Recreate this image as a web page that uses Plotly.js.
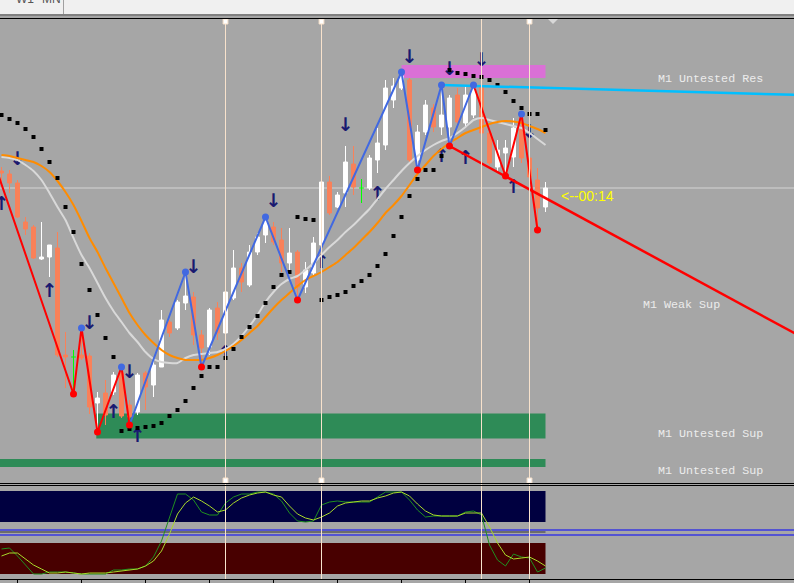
<!DOCTYPE html>
<html><head><meta charset="utf-8">
<script src="https://cdn.plot.ly/plotly-3.0.1.min.js"></script>
<style>html,body{margin:0;padding:0;background:#a6a6a6;overflow:hidden}#chart{width:794px;height:583px}</style>
</head><body><div id="chart"></div>
<script>
// ---- price bars (main window, arbitrary price units) ----
const open  = [329,326,317,278,273,241,243,252,145,143,145,144,97,107,108,127,95,88,127,115,133,178,172,197,203,165,153,192,167,202,232,215,248,265,273,260,237,248,213,227,255,318,293,307,336,312,312,340,355,400,412,420,340,368,392,373,373,405,377,385,413,367,333,347,343,370,342,320,293];
const high  = [333,330,320,283,275,278,255,268,168,150,172,147,108,120,128,133,100,127,129,140,190,180,200,228,208,170,192,198,208,250,237,255,267,283,278,272,272,250,238,263,324,324,308,354,354,321,345,372,420,422,428,422,375,400,396,415,405,412,415,415,413,370,360,360,382,386,350,332,318];
const low   = [318,307,282,265,241,240,223,143,112,106,140,86,68,75,105,82,75,85,90,103,133,163,170,190,155,133,145,160,165,200,208,213,245,257,255,228,227,200,207,225,250,285,292,293,305,297,310,327,350,392,410,337,330,365,368,365,354,375,372,382,365,335,328,324,333,337,315,270,288];
const close = [327,317,283,271,242,243,255,145,143,143,142,93,102,85,125,84,83,125,113,135,180,167,198,204,165,152,190,167,208,232,218,248,263,280,258,237,247,213,230,257,318,287,305,338,313,312,342,357,412,414,424,340,368,395,373,385,402,378,405,412,367,337,350,352,372,342,323,292,312];

// moving averages
const maOrange = [345,344,342,340,338,334,328,319,308,295,279,262,248,232,217,202,187,175,165,157,150,145,142,140,140,140,142,145,149,154,160,167,174,183,192,200,207,214,220,224,228,233,238,245,252,260,268,277,287,295,304,315,326,335,344,351,357,362,367,370,373,376,378,379,378.5,377,374,371,367];
const maGrey   = [343,342,340,335,329,320,307,293,280,262,245,232,217,202,189,178,167,158,148,141,138,137,137,142,145,146,147,148,151,156,164,174,185,198,208,216,221,224,230,237,245,253,260,268,275,283,291,301,311,320,329,337,344,350,355,359,362,367,373,380,382,380,378,376,374,372,367,361,355];

// parabolic SAR dots
const sar = [385,381,377,371,363,351,338,322,293,268,236,210,185,162,143,69,71,72,73,74,77,84,90,99,112,124,133,133,142,151,163,173,184,197,213,225,228,283,281,280,200,203,205,208,214,219,225,234,246,264,283,304,321,330,330,344,430,427,426,424,423,420,415,408,399,392,386,386,370];

// fractal arrows
const upArrowBars   = [0,6,14,17,28,40,47,55,58,64];
const upArrowVals   = [295,208,87,63,146,237,305,343,341,312];
const downArrowBars = [2,11,16,24,34,43,51,56,60,66];
const downArrowVals = [340,176,127,232,298,374,442,430,439,367];

// zigzag pivots
const zzBars = [-1,9,10,12,15,16,23,25,33,37,50,52,55,56,59,63,65,67];
const zzVals = [339,106,172,68,133,75,228,133,283,200,428,330,415,354,415,324,386,270];
const zzType = ['S','L','H','L','H','L','H','L','H','L','H','L','H','L','H','L','H','L'];

// lines / zones
const trendBars = [56,100];
const trendVals = [354,163];
const resBars = [55,100];
const resVals = [415,405];
const resZone = {from:50, to:68, top:435, bottom:422};
const supZone1 = {from:12, to:68, top:86.5, bottom:61.5};
const supZone2 = {from:-1, to:68, top:41, bottom:33};
const separatorBars = [28,40,60,66];
const markedSeparators = [28,40,66];
const tickBars = [2,10,18,26,34,42,50,58,66];

// lower indicator window
const oscMain   = [25,26,18,9,0,0,2,2,2,1,0,0,0,0,4,4,5,5,8,17,33,56,80,80,74,62,59,59,71,77,80,80,82,82,80,73,61,53,52,53,69,72,73,72,72,72,72,77,82,82,82,74,64,57,58,58,58,58,62,63,59,29,14,8,20,17,16,2,6];
const oscSignal = [18,21,21,15,9,5,1,1,2,1,0,1,1,1,2,3,4,5,8,13,23,40,60,71,77,73,68,62,64,71,76,79,81,82,79,77,68,60,56,54,57,61,68,71,72,73,73,76,78,81,82,78,70,63,59,58,58,58,61,61,61,47,31,19,15,16,17,13,8];
const oscHighZone = [52,83];
const oscLowZone = [0,31];
const oscLevels = [44,39];
const oscMid = 42;

// labels
const zoneLabels = [
  {text:'M1 Untested Res', px:710.5, py:78.7},
  {text:'M1 Weak Sup', px:681.4, py:304.7},
  {text:'M1 Untested Sup', px:710.5, py:433.7},
  {text:'M1 Untested Sup', px:710.5, py:470.7}
];
const timerText = '<--00:14';

// ---------------- build ----------------
const W = 794, H = 583;
const py = p => 1 - p / H;     // pixel row -> paper fraction
const px = p => p / W;
const bars = open.map((_, i) => i);
const isDoji = bars.map(i => open[i] === close[i]);
const cIdx = bars.filter(i => !isDoji[i]);
const dIdx = bars.filter(i => isDoji[i]);

const SALMON = '#f98159';
const traces = [];

traces.push({
  type:'candlestick', x:cIdx, open:cIdx.map(i=>open[i]), high:cIdx.map(i=>high[i]),
  low:cIdx.map(i=>low[i]), close:cIdx.map(i=>close[i]), xaxis:'x', yaxis:'y',
  increasing:{line:{color:'#ffffff', width:1}, fillcolor:'#ffffff'},
  decreasing:{line:{color:SALMON, width:1}, fillcolor:SALMON},
  whiskerwidth:0, hoverinfo:'skip', showlegend:false
});

// dojis as green crosses
const dx = [], dy = [];
dIdx.forEach(i => { dx.push(i, i, null, i - 0.3, i + 0.3, null); dy.push(high[i], low[i], null, open[i], open[i], null); });
traces.push({type:'scatter', mode:'lines', x:dx, y:dy, line:{color:'#00ff00', width:1}, hoverinfo:'skip', showlegend:false});

// arrows
const arrowFont = {family:'DejaVu Sans', size:19, color:'#191970', weight:'bold'};
traces.push({type:'scatter', mode:'text', x:upArrowBars, y:upArrowVals, text:upArrowBars.map(()=>'<b>↑</b>'), textposition:'middle center', textfont:arrowFont, hoverinfo:'skip', showlegend:false});
traces.push({type:'scatter', mode:'text', x:downArrowBars, y:downArrowVals, text:downArrowBars.map(()=>'<b>↓</b>'), textposition:'middle center', textfont:arrowFont, hoverinfo:'skip', showlegend:false});

// MAs
traces.push({type:'scatter', mode:'lines', x:bars, y:maGrey, line:{color:'#d9d9d9', width:2, shape:'spline', smoothing:0.6}, hoverinfo:'skip', showlegend:false});
traces.push({type:'scatter', mode:'lines', x:bars, y:maOrange, line:{color:'#ff8c00', width:2, shape:'spline', smoothing:0.6}, hoverinfo:'skip', showlegend:false});

// SAR
traces.push({type:'scatter', mode:'markers', x:bars, y:sar, marker:{symbol:'square', size:4, color:'#000000'}, hoverinfo:'skip', showlegend:false});

// resistance line (cyan)
traces.push({type:'scatter', mode:'lines', x:resBars, y:resVals, line:{color:'#00bfff', width:2.5}, hoverinfo:'skip', showlegend:false});

// trend line
traces.push({type:'scatter', mode:'lines', x:trendBars, y:trendVals, line:{color:'#ff0000', width:2.5}, hoverinfo:'skip', showlegend:false});

// zigzag segments
const seg = (a, b, color) => traces.push({type:'scatter', mode:'lines', x:zzBars.slice(a, b + 1), y:zzVals.slice(a, b + 1), line:{color, width:2}, hoverinfo:'skip', showlegend:false});
seg(0, 5, '#ff0000');
seg(5, 14, '#4169e1');
seg(14, 17, '#ff0000');
const hi = zzBars.map((_, i) => i).filter(i => zzType[i] === 'H');
const lo = zzBars.map((_, i) => i).filter(i => zzType[i] === 'L');
traces.push({type:'scatter', mode:'markers', x:hi.map(i=>zzBars[i]), y:hi.map(i=>zzVals[i]), marker:{size:7, color:'#4169e1'}, hoverinfo:'skip', showlegend:false});
traces.push({type:'scatter', mode:'markers', x:lo.map(i=>zzBars[i]), y:lo.map(i=>zzVals[i]), marker:{size:7, color:'#ff0000'}, hoverinfo:'skip', showlegend:false});

// oscillator
traces.push({type:'scatter', mode:'lines', x:bars, y:oscMain, xaxis:'x', yaxis:'y2', line:{color:'#1f8f1f', width:1}, hoverinfo:'skip', showlegend:false});
traces.push({type:'scatter', mode:'lines', x:bars, y:oscSignal, xaxis:'x', yaxis:'y2', line:{color:'#a8d82a', width:1}, hoverinfo:'skip', showlegend:false});

const lastBar = bars[bars.length - 1];
const shapes = [];
// chrome
shapes.push({type:'rect', xref:'paper', yref:'paper', x0:0, x1:1, y0:py(14), y1:1, fillcolor:'#f0f0f0', line:{width:0}, layer:'below'});
shapes.push({type:'line', xref:'paper', yref:'paper', x0:px(63.5), x1:px(63.5), y0:py(14), y1:1, line:{color:'#a0a0a0', width:1}});
shapes.push({type:'line', xref:'paper', yref:'paper', x0:0, x1:1, y0:py(15), y1:py(15), line:{color:'#808080', width:2}});
// zones
shapes.push({type:'rect', xref:'x', yref:'y', x0:resZone.from, x1:resZone.to, y0:resZone.bottom, y1:resZone.top, fillcolor:'#da70d6', line:{width:0}, layer:'below'});
shapes.push({type:'rect', xref:'x', yref:'y', x0:supZone1.from - 0.15, x1:supZone1.to, y0:supZone1.bottom, y1:supZone1.top, fillcolor:'#2e8b57', line:{width:0}, layer:'below'});
shapes.push({type:'rect', xref:'x', yref:'y', x0:supZone2.from, x1:supZone2.to, y0:supZone2.bottom, y1:supZone2.top, fillcolor:'#2e8b57', line:{width:0}, layer:'below'});
// current price line
shapes.push({type:'line', xref:'paper', yref:'y', x0:0, x1:1, y0:close[lastBar], y1:close[lastBar], line:{color:'#d4d4d4', width:1}, layer:'below'});
// oscillator zones and levels
shapes.push({type:'rect', xref:'x', yref:'y2', x0:-1, x1:lastBar, y0:oscHighZone[0], y1:oscHighZone[1], fillcolor:'#000040', line:{width:0}, layer:'below'});
shapes.push({type:'rect', xref:'x', yref:'y2', x0:-1, x1:lastBar, y0:oscLowZone[0], y1:oscLowZone[1], fillcolor:'#480000', line:{width:0}, layer:'below'});
oscLevels.forEach(v => shapes.push({type:'line', xref:'paper', yref:'y2', x0:0, x1:1, y0:v, y1:v, line:{color:'#0000ff', width:1}, layer:'below'}));
shapes.push({type:'line', xref:'x', yref:'y2', x0:-1, x1:lastBar, y0:oscMid, y1:oscMid, line:{color:'#303030', width:1}, layer:'below'});
// period separators
separatorBars.forEach(b => shapes.push({type:'line', xref:'x', yref:'paper', x0:b, x1:b, y0:py(579), y1:py(19), line:{color:'#f8e2cc', width:1}}));
markedSeparators.forEach(b => {
  shapes.push({type:'rect', xref:'x', yref:'paper', x0:b - 0.3, x1:b + 0.3, y0:py(24), y1:py(19), fillcolor:'#ffffff', line:{color:'#f8e2cc', width:1}});
  shapes.push({type:'rect', xref:'x', yref:'paper', x0:b - 0.3, x1:b + 0.3, y0:py(483), y1:py(478), fillcolor:'#ffffff', line:{color:'#f8e2cc', width:1}});
});
// window borders
[18.5, 483.5, 485.5, 579.5].forEach(p => shapes.push({type:'line', xref:'paper', yref:'paper', x0:0, x1:1, y0:py(p), y1:py(p), line:{color:'#000000', width:1}}));
// shift marker
shapes.push({type:'path', xref:'paper', yref:'paper', path:`M ${px(548)} ${py(19)} L ${px(558)} ${py(19)} L ${px(553)} ${py(24)} Z`, fillcolor:'#d8d8d8', line:{width:0}});

const annotations = [];
zoneLabels.forEach(l => annotations.push({xref:'paper', yref:'paper', x:px(l.px), y:py(l.py), text:l.text, showarrow:false, xanchor:'center', yanchor:'middle', font:{family:'Liberation Mono', size:11.7, color:'#ececec'}}));
annotations.push({xref:'paper', yref:'paper', x:px(559), y:py(195.5), text:timerText.replace('<','&lt;'), showarrow:false, xanchor:'left', yanchor:'middle', font:{family:'Liberation Sans', size:14, color:'#ffff00'}});
annotations.push({xref:'paper', yref:'paper', x:px(14), y:py(8), text:'W1', showarrow:false, xanchor:'left', yanchor:'bottom', font:{family:'Liberation Sans', size:12, color:'#555555'}});
annotations.push({xref:'paper', yref:'paper', x:px(40), y:py(8), text:'MN', showarrow:false, xanchor:'left', yanchor:'bottom', font:{family:'Liberation Sans', size:12, color:'#555555'}});

const layout = {
  width:W, height:H, margin:{l:0, r:0, t:0, b:0, pad:0},
  paper_bgcolor:'#a6a6a6', plot_bgcolor:'rgba(0,0,0,0)',
  showlegend:false, hovermode:false, dragmode:false,
  xaxis:{range:[-0.1875, 99.0625], anchor:'y2', showgrid:false, zeroline:false, showline:false,
         tickvals:tickBars, ticks:'outside', ticklen:4, tickcolor:'#000000', tickwidth:1, showticklabels:false,
         rangeslider:{visible:false}, fixedrange:true},
  yaxis:{domain:[py(483), py(19)], range:[17, 481], showgrid:false, zeroline:false, showticklabels:false, ticks:'', fixedrange:true},
  yaxis2:{domain:[py(579), py(486)], range:[-5, 88], showgrid:false, zeroline:false, showticklabels:false, ticks:'', fixedrange:true},
  shapes, annotations
};
Plotly.newPlot('chart', traces, layout, {staticPlot:true, displayModeBar:false});
</script>
</body></html>
